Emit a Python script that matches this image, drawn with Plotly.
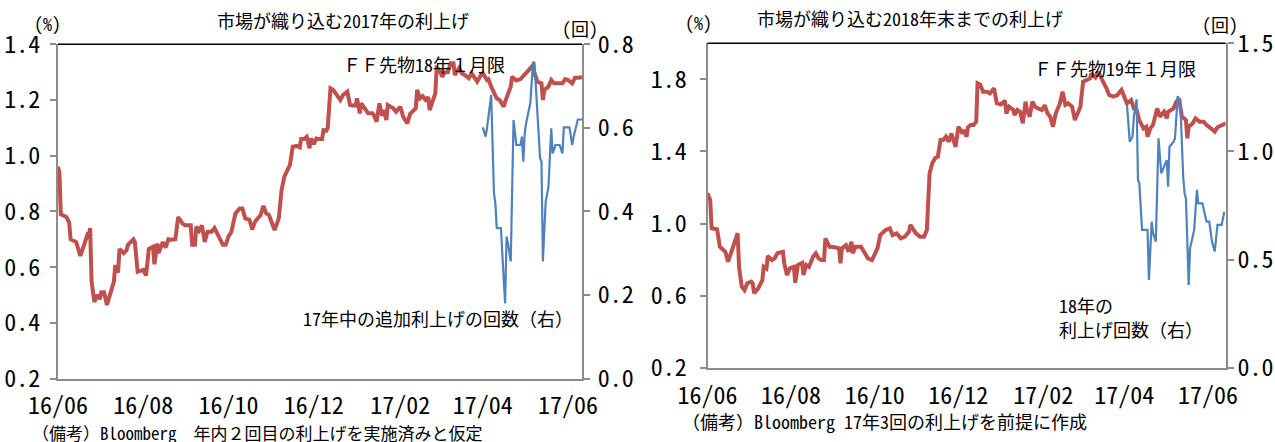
import plotly.graph_objects as go

W, H = 1275, 442
FONT = "Noto Sans Mono CJK JP, Noto Sans CJK JP, sans-serif"
RED = "#C0504D"
BLUE = "#4F81BD"

# ---------------- Left chart: 2017 hikes ----------------
ff18_dates = [
    "2016-06-01", "2016-06-02", "2016-06-03", "2016-06-07", "2016-06-09", "2016-06-10", "2016-06-14",
    "2016-06-17", "2016-06-19", "2016-06-22", "2016-06-23", "2016-06-24", "2016-06-25", "2016-06-27",
    "2016-06-29", "2016-07-01", "2016-07-02", "2016-07-04", "2016-07-06", "2016-07-08", "2016-07-11",
    "2016-07-12", "2016-07-14", "2016-07-15", "2016-07-18", "2016-07-20", "2016-07-21", "2016-07-25",
    "2016-07-26", "2016-07-28", "2016-08-01", "2016-08-03", "2016-08-05", "2016-08-08", "2016-08-09",
    "2016-08-11", "2016-08-12", "2016-08-15", "2016-08-17", "2016-08-19", "2016-08-21", "2016-08-24",
    "2016-08-26", "2016-08-29", "2016-08-31", "2016-09-04", "2016-09-05", "2016-09-07", "2016-09-08",
    "2016-09-10", "2016-09-12", "2016-09-14", "2016-09-16", "2016-09-19", "2016-09-21", "2016-09-24",
    "2016-09-27", "2016-09-29", "2016-10-01", "2016-10-03", "2016-10-06", "2016-10-09", "2016-10-11",
    "2016-10-13", "2016-10-16", "2016-10-18", "2016-10-20", "2016-10-24", "2016-10-26", "2016-10-28",
    "2016-10-30", "2016-11-03", "2016-11-06", "2016-11-08", "2016-11-10", "2016-11-14", "2016-11-16",
    "2016-11-19", "2016-11-21", "2016-11-22", "2016-11-24", "2016-11-26", "2016-11-28", "2016-11-29",
    "2016-12-01", "2016-12-03", "2016-12-04", "2016-12-07", "2016-12-08", "2016-12-10", "2016-12-11",
    "2016-12-13", "2016-12-15", "2016-12-20", "2016-12-22", "2016-12-25", "2016-12-27", "2016-12-29",
    "2016-12-31", "2017-01-01", "2017-01-03", "2017-01-04", "2017-01-07", "2017-01-09", "2017-01-12",
    "2017-01-13", "2017-01-15", "2017-01-17", "2017-01-19", "2017-01-20", "2017-01-22", "2017-01-23",
    "2017-01-27", "2017-01-29", "2017-02-01", "2017-02-03", "2017-02-06", "2017-02-08", "2017-02-12",
    "2017-02-13", "2017-02-15", "2017-02-17", "2017-02-19", "2017-02-21", "2017-02-22", "2017-02-25",
    "2017-02-26", "2017-02-27", "2017-03-01", "2017-03-03", "2017-03-05", "2017-03-07", "2017-03-09",
    "2017-03-11", "2017-03-12", "2017-03-15", "2017-03-17", "2017-03-19", "2017-03-22", "2017-03-24",
    "2017-03-26", "2017-03-28", "2017-03-30", "2017-04-01", "2017-04-04", "2017-04-05", "2017-04-07",
    "2017-04-09", "2017-04-11", "2017-04-13", "2017-04-16", "2017-04-17", "2017-04-19", "2017-04-21",
    "2017-04-22", "2017-04-25", "2017-04-28", "2017-05-01", "2017-05-04", "2017-05-07", "2017-05-08",
    "2017-05-10", "2017-05-13", "2017-05-14", "2017-05-15", "2017-05-18", "2017-05-20", "2017-05-22",
    "2017-05-25", "2017-05-28", "2017-05-30", "2017-06-01", "2017-06-04", "2017-06-06", "2017-06-09",
    "2017-06-11",
]
ff18_values = [
    0.96, 0.94, 0.79, 0.78, 0.76, 0.70, 0.69,
    0.64, 0.67, 0.715, 0.71, 0.74, 0.55, 0.475,
    0.50, 0.485, 0.51, 0.51, 0.464, 0.50, 0.548,
    0.607, 0.58, 0.665, 0.65, 0.66, 0.68, 0.70,
    0.69, 0.583, 0.59, 0.57, 0.665, 0.673, 0.61,
    0.685, 0.65, 0.69, 0.67, 0.70, 0.698, 0.70,
    0.78, 0.757, 0.75, 0.75, 0.68, 0.68, 0.745,
    0.73, 0.75, 0.69, 0.727, 0.727, 0.74, 0.71,
    0.68, 0.68, 0.71, 0.725, 0.793, 0.81, 0.81,
    0.775, 0.77, 0.735, 0.763, 0.787, 0.82, 0.793,
    0.787, 0.733, 0.775, 0.877, 0.925, 0.967, 1.032,
    1.035, 1.03, 1.06, 1.06, 1.068, 1.027, 1.062,
    1.042, 1.062, 1.06, 1.06, 1.092, 1.09, 1.10,
    1.242, 1.236, 1.20, 1.218, 1.23, 1.182, 1.18,
    1.18, 1.206, 1.152, 1.188, 1.164, 1.152, 1.152,
    1.146, 1.122, 1.188, 1.143, 1.164, 1.128, 1.182,
    1.17, 1.158, 1.176, 1.14, 1.116, 1.15, 1.17,
    1.236, 1.206, 1.214, 1.20, 1.21, 1.164, 1.206,
    1.224, 1.314, 1.308, 1.284, 1.30, 1.30, 1.332,
    1.332, 1.29, 1.314, 1.296, 1.29, 1.278, 1.296,
    1.278, 1.266, 1.284, 1.296, 1.272, 1.275, 1.248,
    1.224, 1.206, 1.20, 1.176, 1.194, 1.224, 1.248,
    1.284, 1.27, 1.275, 1.29, 1.308, 1.326, 1.296,
    1.266, 1.26, 1.20, 1.236, 1.248, 1.272, 1.26,
    1.26, 1.26, 1.275, 1.272, 1.26, 1.28, 1.28,
    1.283,
]

hikes17_dates = [
    "2017-04-01", "2017-04-03", "2017-04-04", "2017-04-07", "2017-04-09", "2017-04-10", "2017-04-11",
    "2017-04-14", "2017-04-16", "2017-04-17", "2017-04-18", "2017-04-19", "2017-04-21", "2017-04-23",
    "2017-04-25", "2017-04-28", "2017-04-29", "2017-04-30", "2017-05-01", "2017-05-02", "2017-05-05",
    "2017-05-07", "2017-05-08", "2017-05-11", "2017-05-12", "2017-05-13", "2017-05-14", "2017-05-16",
    "2017-05-18", "2017-05-20", "2017-05-21", "2017-05-23", "2017-05-26", "2017-05-28", "2017-05-29",
    "2017-06-02", "2017-06-04", "2017-06-05", "2017-06-08", "2017-06-11",
]
hikes17_values = [
    0.601, 0.579, 0.599, 0.679, 0.443, 0.419, 0.36,
    0.36, 0.236, 0.18, 0.34, 0.324, 0.28, 0.619,
    0.559, 0.559, 0.579, 0.519, 0.587, 0.611, 0.659,
    0.758, 0.755, 0.599, 0.527, 0.52, 0.28, 0.423,
    0.459, 0.599, 0.539, 0.559, 0.559, 0.539, 0.601,
    0.601, 0.559, 0.579, 0.62, 0.62,
]

# ---------------- Right chart: hikes through end-2018 ----------------
ff19_dates = [
    "2016-06-01", "2016-06-03", "2016-06-04", "2016-06-08", "2016-06-10", "2016-06-14", "2016-06-16",
    "2016-06-18", "2016-06-21", "2016-06-23", "2016-06-24", "2016-06-26", "2016-06-28", "2016-06-30",
    "2016-07-03", "2016-07-04", "2016-07-05", "2016-07-08", "2016-07-11", "2016-07-12", "2016-07-14",
    "2016-07-15", "2016-07-18", "2016-07-20", "2016-07-22", "2016-07-26", "2016-07-27", "2016-07-29",
    "2016-07-31", "2016-08-03", "2016-08-04", "2016-08-06", "2016-08-09", "2016-08-10", "2016-08-12",
    "2016-08-14", "2016-08-17", "2016-08-19", "2016-08-21", "2016-08-23", "2016-08-25", "2016-08-26",
    "2016-08-29", "2016-09-01", "2016-09-05", "2016-09-06", "2016-09-07", "2016-09-10", "2016-09-12",
    "2016-09-14", "2016-09-15", "2016-09-17", "2016-09-21", "2016-09-23", "2016-09-26", "2016-09-29",
    "2016-10-02", "2016-10-03", "2016-10-05", "2016-10-09", "2016-10-12", "2016-10-14", "2016-10-17",
    "2016-10-20", "2016-10-23", "2016-10-26", "2016-10-27", "2016-10-29", "2016-10-31", "2016-11-03",
    "2016-11-06", "2016-11-08", "2016-11-10", "2016-11-12", "2016-11-14", "2016-11-16", "2016-11-18",
    "2016-11-20", "2016-11-22", "2016-11-24", "2016-11-26", "2016-11-27", "2016-11-29", "2016-12-01",
    "2016-12-04", "2016-12-05", "2016-12-07", "2016-12-08", "2016-12-10", "2016-12-12", "2016-12-14",
    "2016-12-15", "2016-12-17", "2016-12-19", "2016-12-22", "2016-12-24", "2016-12-27", "2016-12-29",
    "2017-01-01", "2017-01-02", "2017-01-04", "2017-01-05", "2017-01-07", "2017-01-10", "2017-01-11",
    "2017-01-13", "2017-01-15", "2017-01-17", "2017-01-19", "2017-01-20", "2017-01-22", "2017-01-24",
    "2017-01-26", "2017-01-28", "2017-01-31", "2017-02-02", "2017-02-04", "2017-02-06", "2017-02-08",
    "2017-02-10", "2017-02-13", "2017-02-15", "2017-02-17", "2017-02-19", "2017-02-22", "2017-02-24",
    "2017-02-27", "2017-02-28", "2017-03-02", "2017-03-05", "2017-03-07", "2017-03-08", "2017-03-11",
    "2017-03-13", "2017-03-15", "2017-03-17", "2017-03-19", "2017-03-21", "2017-03-24", "2017-03-27",
    "2017-03-30", "2017-04-01", "2017-04-03", "2017-04-06", "2017-04-08", "2017-04-10", "2017-04-12",
    "2017-04-15", "2017-04-17", "2017-04-18", "2017-04-20", "2017-04-22", "2017-04-25", "2017-04-27",
    "2017-04-30", "2017-05-02", "2017-05-03", "2017-05-07", "2017-05-09", "2017-05-11", "2017-05-13",
    "2017-05-16", "2017-05-17", "2017-05-18", "2017-05-21", "2017-05-23", "2017-05-26", "2017-05-29",
    "2017-05-31", "2017-06-04", "2017-06-06", "2017-06-08", "2017-06-10", "2017-06-13", "2017-06-14",
]
ff19_values = [
    1.168, 1.13, 0.973, 0.968, 0.871, 0.843, 0.788,
    0.835, 0.89, 0.946, 0.76, 0.649, 0.63, 0.668,
    0.677, 0.668, 0.613, 0.64, 0.686, 0.76, 0.75,
    0.82, 0.797, 0.807, 0.835, 0.843, 0.779, 0.714,
    0.751, 0.76, 0.671, 0.77, 0.782, 0.714, 0.77,
    0.76, 0.816, 0.835, 0.807, 0.797, 0.797, 0.918,
    0.871, 0.87, 0.862, 0.779, 0.862, 0.88, 0.843,
    0.899, 0.835, 0.871, 0.871, 0.843, 0.807, 0.797,
    0.843, 0.862, 0.936, 0.964, 0.973, 0.936, 0.945,
    0.918, 0.927, 0.955, 0.992, 0.973, 0.945, 0.927,
    0.927, 0.964, 1.279, 1.334, 1.362, 1.371, 1.463,
    1.463, 1.482, 1.454, 1.50, 1.472, 1.426, 1.537,
    1.50, 1.519, 1.482, 1.534, 1.547, 1.547, 1.565,
    1.778, 1.77, 1.731, 1.731, 1.722, 1.75, 1.667,
    1.66, 1.667, 1.681, 1.611, 1.648, 1.63, 1.602,
    1.63, 1.62, 1.556, 1.676, 1.63, 1.593, 1.676,
    1.648, 1.639, 1.63, 1.657, 1.611, 1.593, 1.537,
    1.61, 1.665, 1.731, 1.658, 1.667, 1.648, 1.574,
    1.63, 1.648, 1.787, 1.796, 1.805, 1.833, 1.81,
    1.842, 1.815, 1.778, 1.75, 1.713, 1.704, 1.713,
    1.741, 1.704, 1.667, 1.685, 1.639, 1.63, 1.574,
    1.528, 1.537, 1.482, 1.528, 1.547, 1.639, 1.593,
    1.62, 1.584, 1.62, 1.639, 1.676, 1.695, 1.593,
    1.574, 1.473, 1.537, 1.556, 1.584, 1.565, 1.565,
    1.547, 1.523, 1.51, 1.534, 1.54, 1.55, 1.556,
]

hikes18_dates = [
    "2017-04-03", "2017-04-05", "2017-04-07", "2017-04-08", "2017-04-10", "2017-04-11", "2017-04-12",
    "2017-04-14", "2017-04-18", "2017-04-19", "2017-04-21", "2017-04-22", "2017-04-24", "2017-04-26",
    "2017-04-28", "2017-04-30", "2017-05-02", "2017-05-03", "2017-05-04", "2017-05-07", "2017-05-08",
    "2017-05-10", "2017-05-12", "2017-05-14", "2017-05-15", "2017-05-16", "2017-05-18", "2017-05-19",
    "2017-05-22", "2017-05-24", "2017-05-25", "2017-05-28", "2017-05-31", "2017-06-02", "2017-06-04",
    "2017-06-06", "2017-06-08", "2017-06-11", "2017-06-13",
]
hikes18_values = [
    1.215, 1.045, 1.068, 1.161, 1.241, 0.868, 0.853,
    0.637, 0.637, 0.406, 0.675, 0.622, 0.583, 1.061,
    0.899, 0.93, 0.96, 0.837, 1.022, 1.045, 1.061,
    1.256, 1.207, 0.883, 0.807, 0.783, 0.383, 0.552,
    0.637, 0.822, 0.76, 0.76, 0.675, 0.675, 0.583,
    0.537, 0.66, 0.66, 0.721,
]

left_range_end = "2017-06-11"
right_range_end = "2017-06-14"

fig = go.Figure()
fig.add_trace(go.Scatter(x=ff18_dates, y=ff18_values, mode="lines", xaxis="x", yaxis="y",
                         line=dict(color=RED, width=4), showlegend=False))
fig.add_trace(go.Scatter(x=hikes17_dates, y=hikes17_values, mode="lines", xaxis="x", yaxis="y2",
                         line=dict(color=BLUE, width=2.2), showlegend=False))
fig.add_trace(go.Scatter(x=ff19_dates, y=ff19_values, mode="lines", xaxis="x2", yaxis="y3",
                         line=dict(color=RED, width=4), showlegend=False))
fig.add_trace(go.Scatter(x=hikes18_dates, y=hikes18_values, mode="lines", xaxis="x2", yaxis="y4",
                         line=dict(color=BLUE, width=2.2), showlegend=False))

AX = "#8c8c8c"
tickfont = dict(family=FONT, size=24, color="#000")
xcommon = dict(type="date", tickformat="%y/%m", dtick="M2", tick0="2016-06-01",
               showgrid=False, zeroline=False, showline=True, linecolor=AX, linewidth=2,
               ticks="", tickfont=tickfont, ticklabelstandoff=5, automargin=False)
ycommon = dict(showgrid=False, zeroline=False, showline=True, linecolor=AX, linewidth=2,
               ticks="outside", ticklen=6, tickcolor=AX, tickwidth=1.5,
               tickfont=tickfont, tickformat=".1f", automargin=False)

L0, L1 = 58 / W, 582 / W
LB, LT = 1 - 378.5 / H, 1 - 44.3 / H
R0, R1 = 707.5 / W, 1225.7 / W
RB, RT = 1 - 367.7 / H, 1 - 43.3 / H

fig.update_layout(
    template="none",
    width=W, height=H, margin=dict(l=0, r=0, t=0, b=0, pad=0),
    paper_bgcolor="white", plot_bgcolor="white",
    font=dict(family=FONT, size=18, color="#000"),
    xaxis=dict(domain=[L0, L1], anchor="y", range=["2016-06-01", left_range_end], **xcommon),
    yaxis=dict(domain=[LB, LT], anchor="x", range=[0.2, 1.4], dtick=0.2, tick0=0.2,
               ticklabelstandoff=5, **ycommon),
    yaxis2=dict(overlaying="y", side="right", anchor="x", range=[0, 0.8], dtick=0.2, tick0=0,
                ticklabelstandoff=3, **ycommon),
    xaxis2=dict(domain=[R0, R1], anchor="y3", range=["2016-06-01", right_range_end], **xcommon),
    yaxis3=dict(domain=[RB, RT], anchor="x2", range=[0.2, 2.0],
                tickvals=[0.2, 0.6, 1.0, 1.4, 1.8], ticklabelstandoff=8, **ycommon),
    yaxis4=dict(overlaying="y3", side="right", anchor="x2", range=[0, 1.5], dtick=0.5, tick0=0,
                ticklabelstandoff=-1, **ycommon),
)

# top borders of the plot areas
fig.add_shape(type="line", xref="paper", yref="paper", x0=L0, x1=L1, y0=LT, y1=LT,
              line=dict(color="#000", width=1.5))
fig.add_shape(type="line", xref="paper", yref="paper", x0=R0, x1=R1, y0=RT, y1=RT,
              line=dict(color="#000", width=1.5))


def txt(text, px, py, xanchor="left", size=18):
    fig.add_annotation(text=text, x=px / W, y=1 - py / H, xref="paper", yref="paper",
                       xanchor=xanchor, yanchor="middle", showarrow=False,
                       font=dict(family=FONT, size=size, color="#000"))


txt("市場が織り込む2017年の利上げ", 343, 20, "center")
txt("(%)", 48, 23, "center")
txt("(回)", 580, 28, "center")
txt("ＦＦ先物18年１月限", 341, 64)
txt("17年中の追加利上げの回数（右）", 575, 318, "right")
txt("（備考）Bloomberg　年内２回目の利上げを実施済みと仮定", 30, 432, size=17)

txt("市場が織り込む2018年末までの利上げ", 910, 18, "center")
txt("(%)", 698, 22, "center")
txt("(回)", 1220, 24, "center")
txt("ＦＦ先物19年１月限", 1032, 68)
txt("18年の", 1057, 305)
txt("利上げ回数（右）", 1057, 329)
txt("（備考）Bloomberg 17年3回の利上げを前提に作成", 680, 421)

fig.write_html(
    "out.html",
    config={"displayModeBar": False},
    post_script="document.body.style.margin='0';document.body.style.overflow='hidden';",
)
